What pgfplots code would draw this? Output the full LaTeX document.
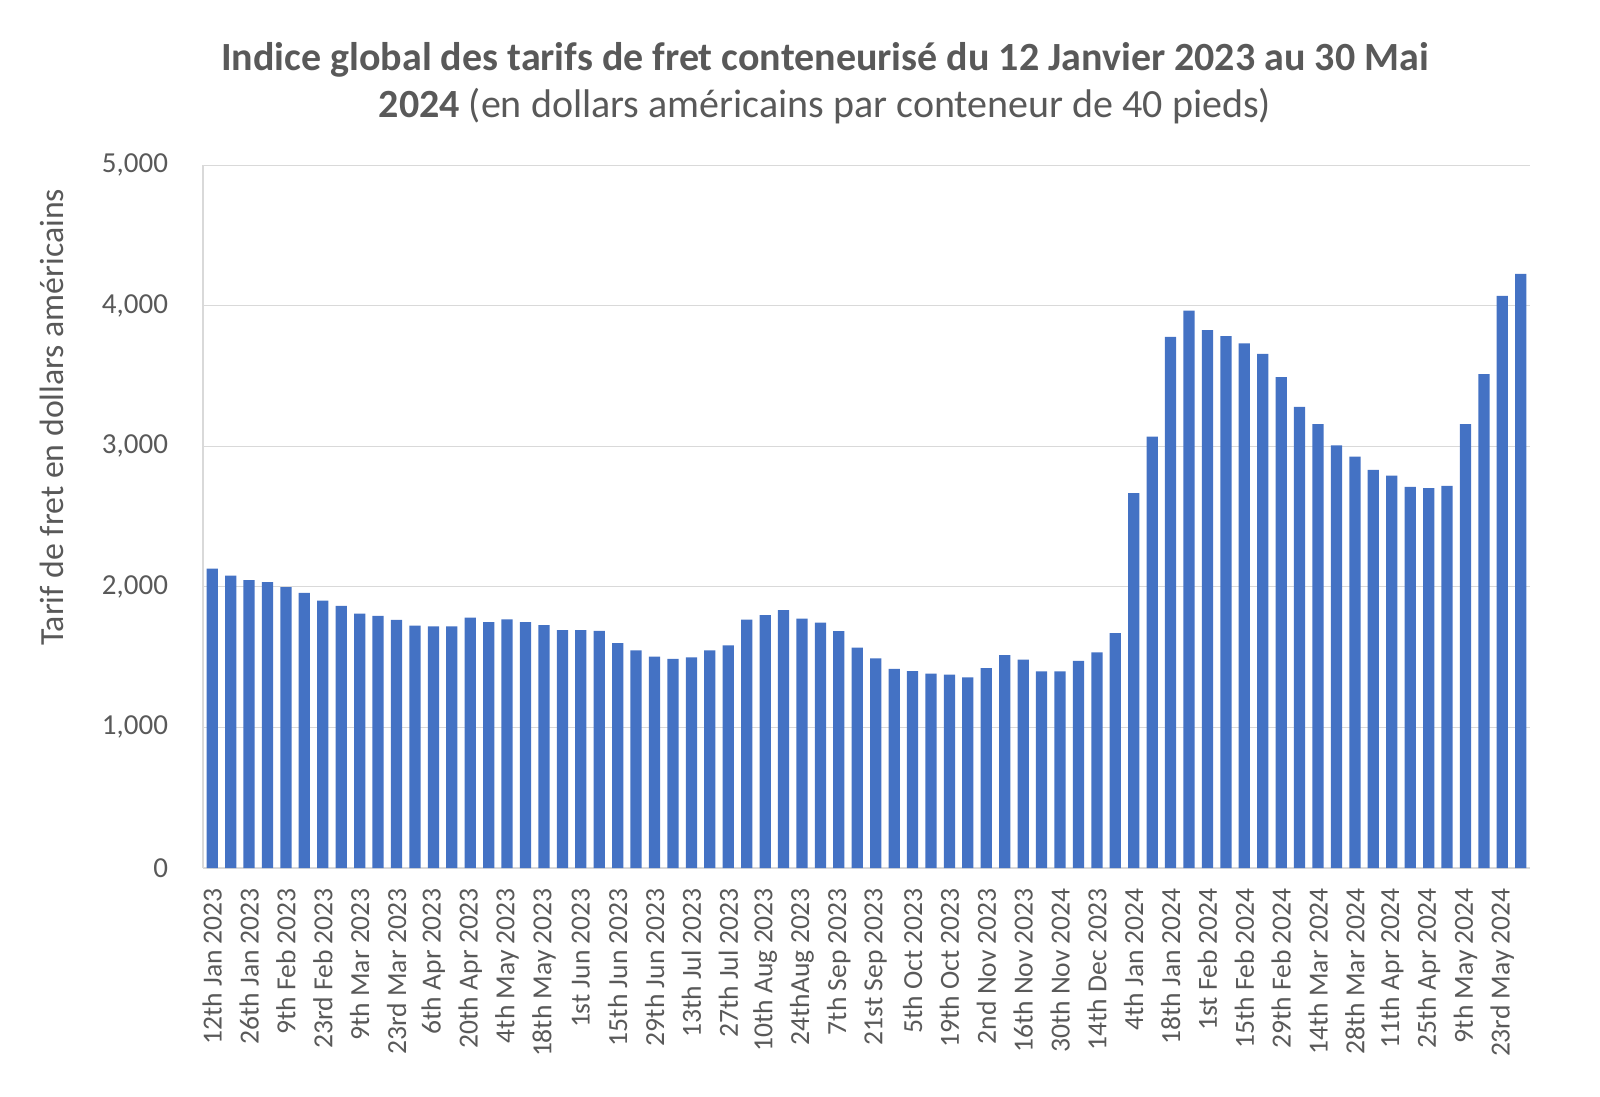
\documentclass[border=0pt]{standalone}
\usepackage{pgfplots}
\pgfplotsset{compat=1.18}
\usepackage{pgfplotstable}
\usepackage{fontspec}
\setmainfont{Carlito}
\definecolor{barblue}{HTML}{4472C4}
\definecolor{txtgray}{HTML}{595959}
\definecolor{gridgray}{HTML}{D9D9D9}

\pgfplotstableread{
x y
0 2130
1 2080
2 2048
3 2034
4 1998
5 1957
6 1902
7 1864
8 1809
9 1793
10 1764
11 1723
12 1718
13 1718
14 1780
15 1748
16 1768
17 1748
18 1727
19 1691
20 1691
21 1686
22 1600
23 1548
24 1503
25 1487
26 1498
27 1548
28 1584
29 1766
30 1798
31 1834
32 1773
33 1746
34 1684
35 1568
36 1491
37 1416
38 1400
39 1382
40 1375
41 1355
42 1421
43 1514
44 1482
45 1398
46 1398
47 1473
48 1534
49 1671
50 2666
51 3068
52 3778
53 3965
54 3825
55 3783
56 3731
57 3657
58 3491
59 3280
60 3157
61 3005
62 2925
63 2832
64 2790
65 2710
66 2701
67 2717
68 3157
69 3512
70 4069
71 4225
}\wci

\begin{document}
\begin{tikzpicture}
\useasboundingbox (-101.5bp,-114.5bp) rectangle (698.5bp,434bp);
\begin{axis}[
  name=ax,
  scale only axis,
  width=663.5bp, height=351.5bp,
  at={(0,0)}, anchor=south west,
  xmin=-0.5, xmax=71.5,
  ymin=0, ymax=5000,
  ytick={0,1000,2000,3000,4000,5000},
  xtick={0,2,...,70},
  xticklabels={12th Jan 2023,26th Jan 2023,9th Feb 2023,23rd Feb 2023,9th Mar 2023,23rd Mar 2023,6th Apr 2023,20th Apr 2023,4th May 2023,18th May 2023,1st Jun 2023,15th Jun 2023,29th Jun 2023,13th Jul 2023,27th Jul 2023,10th Aug 2023,24thAug 2023,7th Sep 2023,21st Sep 2023,5th Oct 2023,19th Oct 2023,2nd Nov 2023,16th Nov 2023,30th Nov 2024,14th Dec 2023,4th Jan 2024,18th Jan 2024,1st Feb 2024,15th Feb 2024,29th Feb 2024,14th Mar 2024,28th Mar 2024,11th Apr 2024,25th Apr 2024,9th May 2024,23rd May 2024},
  major tick length=0pt,
  ymajorgrids,
  grid style={gridgray, line width=0.5bp},
  axis x line*=bottom, axis y line*=left,
  axis line style={gridgray, line width=0.75bp},
  scaled y ticks=false,
  /pgf/number format/.cd, 1000 sep={,}, assume math mode=true,
  /pgfplots/.cd,
  ticklabel style={text=txtgray},
  xticklabel style={rotate=90, anchor=east, xshift=-6.5bp, font=\fontsize{13.8bp}{16bp}\selectfont},
  yticklabel style={anchor=east, xshift=-14bp, font=\fontsize{14.5bp}{17bp}\selectfont},
  ylabel={Tarif de fret en dollars américains},
  ylabel style={at={(axis description cs:-0.114,0.641)}, anchor=center, font=\fontsize{16.9bp}{20bp}\selectfont, text=txtgray},
  title={\textbf{Indice global des tarifs de fret conteneurisé du 12 Janvier 2023 au 30 Mai}\\\textbf{2024} (en dollars américains par conteneur de 40 pieds)},
  title style={at={(axis description cs:0.4687,1.100)}, anchor=center, align=center, font=\fontsize{20bp}{23.5bp}\selectfont, text=txtgray},
  ybar, bar width=0.61,
]
\addplot[fill=barblue, draw=none] table[x=x, y=y]{\wci};
\end{axis}
\end{tikzpicture}
\end{document}
